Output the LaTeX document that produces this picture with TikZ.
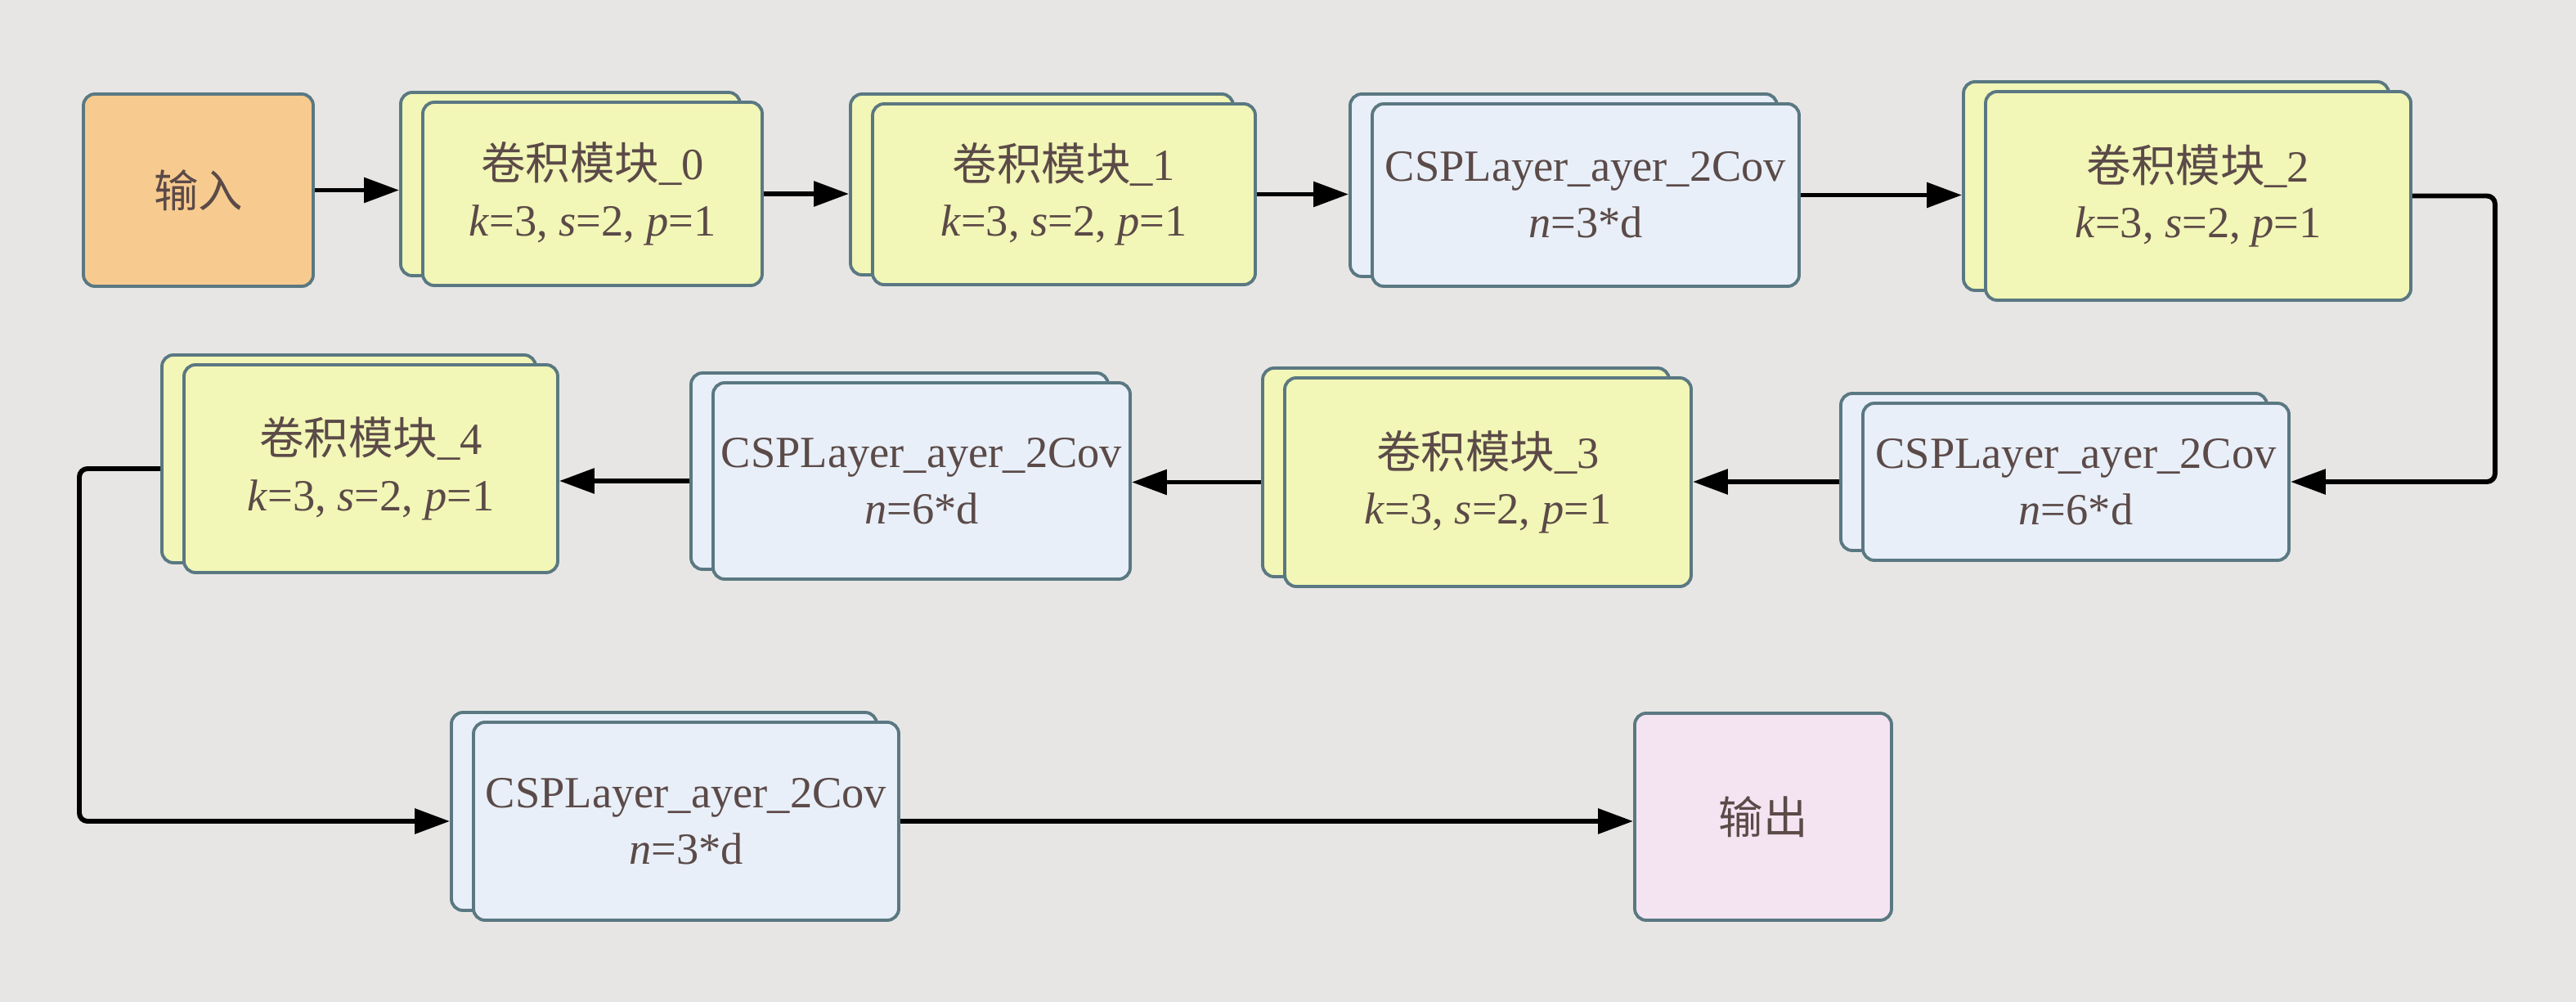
\documentclass[tikz,border=0pt]{standalone}
\usepackage{fontspec}
\setmainfont{Liberation Serif}
\newfontfamily\cjk{Noto Sans CJK SC}
\usepackage{tikz}
\usetikzlibrary{positioning,calc,arrows.meta,shadows}
\definecolor{bgc}{HTML}{E7E6E4}
\definecolor{bordc}{HTML}{5A7882}
\definecolor{txtc}{HTML}{5B4A48}
\definecolor{infill}{HTML}{F7CB8F}
\definecolor{convfill}{HTML}{F2F6B6}
\definecolor{cspfill}{HTML}{E8EFF8}
\definecolor{outfill}{HTML}{F4E4F2}
\tikzset{
  blkfont/.style={font=\fontsize{15.5}{19.5}\selectfont, text=txtc},
  blkbox/.style={draw=bordc, line width=1.1pt, rounded corners=4pt, align=center, inner sep=0pt},
  backcopy/.style={copy shadow={shadow xshift=-2.7mm, shadow yshift=1.2mm, fill=#1, draw=bordc, line width=1.1pt}},
  convbox/.style={blkbox, fill=convfill, backcopy=convfill},
  cspbox/.style={blkbox, fill=cspfill, backcopy=cspfill},
  inbox/.style={blkbox, fill=infill},
  outbox/.style={blkbox, fill=outfill},
  blkarrow/.style={-{Triangle[length=4.3mm, width=3mm]}, line width=1.7pt, rounded corners=1mm},
  toback/.style={shorten >=2.7mm},
  fromback/.style={shorten <=2.7mm},
}
\newcommand{\convtxt}[1]{{\cjk 卷积模块}\_#1\\\textit{k}=3, \textit{s}=2, \textit{p}=1}
\newcommand{\csptxt}[1]{CSPLayer\_ayer\_2Cov\\\textit{n}=#1*d}

\begin{document}
\begin{tikzpicture}[blkfont]
  \fill[bgc] (0,0) rectangle (31.5,-12.25);
  \useasboundingbox (0,0) rectangle (31.5,-12.25);

  % Top row
  \node[inbox, minimum width=2.81cm, minimum height=2.35cm] (in) at (2.425,-2.325) {\cjk 输入};
  \node[convbox, minimum width=4.15cm, minimum height=2.24cm] (conv0) at (7.245,-2.37) {\convtxt{0}};
  \node[convbox, minimum width=4.68cm, minimum height=2.21cm] (conv1) at (13.01,-2.375) {\convtxt{1}};
  \node[cspbox, minimum width=5.22cm, minimum height=2.23cm] (csp1) at (19.39,-2.385) {\csptxt{3}};
  \node[convbox, minimum width=5.20cm, minimum height=2.55cm] (conv2) at (26.88,-2.395) {\convtxt{2}};

  % Middle row
  \node[cspbox, minimum width=5.21cm, minimum height=1.92cm] (csp2) at (25.385,-5.89) {\csptxt{6}};
  \node[convbox, minimum width=4.97cm, minimum height=2.55cm] (conv3) at (18.195,-5.895) {\convtxt{3}};
  \node[cspbox, minimum width=5.10cm, minimum height=2.40cm] (csp3) at (11.27,-5.88) {\csptxt{6}};
  \node[convbox, minimum width=4.57cm, minimum height=2.54cm] (conv4) at (4.535,-5.73) {\convtxt{4}};

  % Bottom row
  \node[cspbox, minimum width=5.20cm, minimum height=2.42cm] (csp4) at (8.39,-10.04) {\csptxt{3}};
  \node[outbox, minimum width=3.14cm, minimum height=2.53cm] (out) at (21.56,-9.985) {\cjk 输出};

  % Turning points
  \coordinate (rturn) at (30.51,-2.33);
  \coordinate (lturn) at (0.97,-5.66);

  % Arrows
  \draw[blkarrow, toback] (in.east) -- (in.east -| conv0.west);
  \draw[blkarrow, toback] (conv0.east) -- (conv0.east -| conv1.west);
  \draw[blkarrow, toback] (conv1.east) -- (conv1.east -| csp1.west);
  \draw[blkarrow, toback] (csp1.east) -- (csp1.east -| conv2.west);
  \draw[blkarrow] (conv2.east) -- (conv2.east -| rturn) |- (csp2.east);
  \draw[blkarrow, fromback] (csp2.west) -- (csp2.west -| conv3.east);
  \draw[blkarrow, fromback] (conv3.west) -- (conv3.west -| csp3.east);
  \draw[blkarrow, fromback] (csp3.west) -- (csp3.west -| conv4.east);
  \draw[blkarrow, fromback, toback] (conv4.west) -- (conv4.west -| lturn) |- (csp4.west);
  \draw[blkarrow] (csp4.east) -- (csp4.east -| out.west);
\end{tikzpicture}
\end{document}
